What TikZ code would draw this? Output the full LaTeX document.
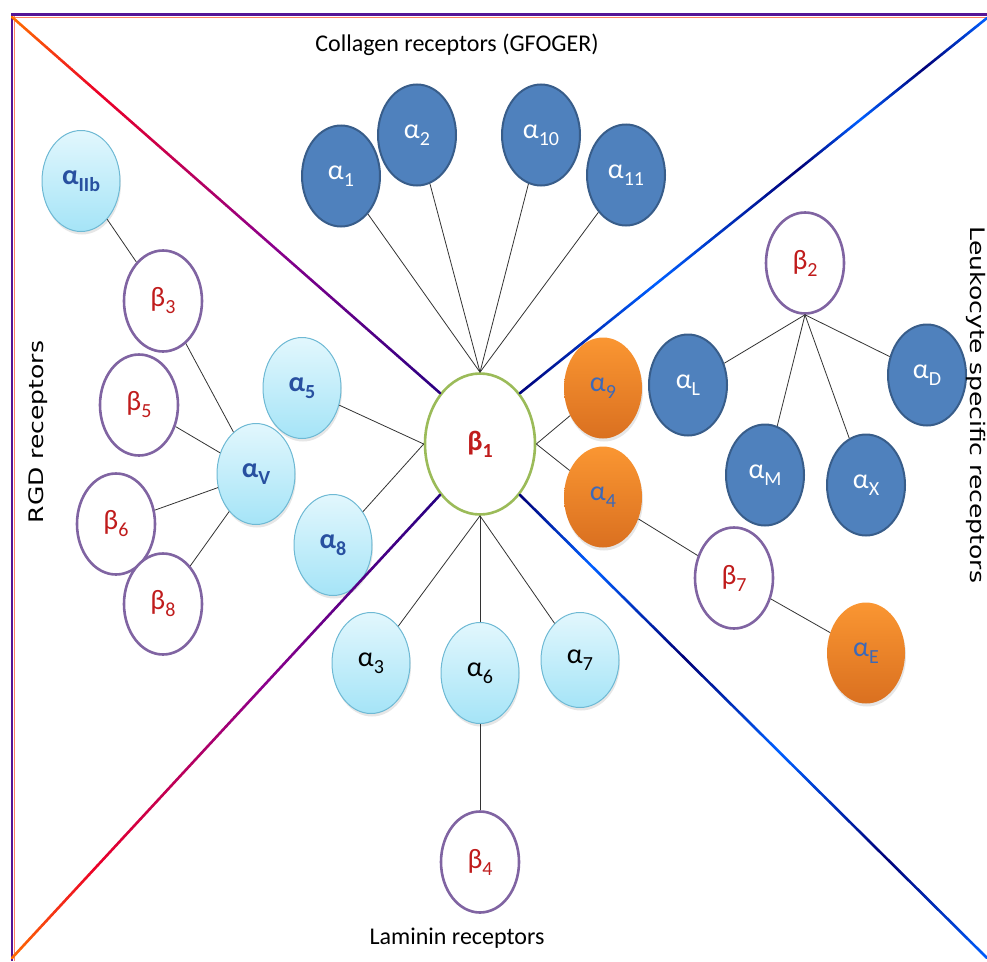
\documentclass[tikz,border=0pt]{standalone}
\usepackage{fontspec}
\setmainfont{Carlito}
\newfontfamily\dejavu{DejaVu Sans}
\usetikzlibrary{shapes.geometric,calc,shadows}

\definecolor{dkblue}{RGB}{79,129,189}
\definecolor{dkblueline}{RGB}{56,93,138}
\definecolor{ltblueT}{RGB}{226,247,253}
\definecolor{ltblueB}{RGB}{165,228,247}
\definecolor{ltblueline}{RGB}{110,185,212}
\definecolor{orT}{RGB}{250,150,50}
\definecolor{orB}{RGB}{218,112,32}
\definecolor{betaline}{RGB}{128,100,162}
\definecolor{greenline}{RGB}{155,187,89}
\definecolor{betatext}{RGB}{192,28,28}
\definecolor{boldblue}{RGB}{40,80,160}
\definecolor{ortext}{RGB}{60,105,185}
\definecolor{gOrange}{RGB}{255,110,0}
\definecolor{gRed}{RGB}{235,0,40}
\definecolor{gPurple}{RGB}{140,0,140}
\definecolor{gNavy}{RGB}{40,0,130}
\definecolor{gBlue}{RGB}{0,95,255}
\definecolor{gDark}{RGB}{0,0,120}
\definecolor{frameP}{RGB}{85,20,150}
\definecolor{frameO}{RGB}{255,130,100}

\newcommand\gseg[4]{%
  \foreach \i in {0,...,19}{%
    \pgfmathsetmacro\ta{\i/20}%
    \pgfmathsetmacro\tb{(\i+1)/20}%
    \pgfmathtruncatemacro\gp{100-5*\i}%
    \draw[diagline, draw=#3!\gp!#4] ($#1!\ta!#2$) -- ($#1!\tb!#2$);
  }}

\newcommand\sublbl[2]{#1\raisebox{-7pt}{\fontsize{20}{20}\selectfont #2}}
\newcommand\alp[1]{\sublbl{α}{#1}}
\newcommand\bet[1]{\sublbl{β}{#1}}

\tikzset{
  ell/.style={ellipse, minimum width=78pt, minimum height=101pt, inner sep=0pt,
    font=\fontsize{28}{28}\selectfont},
  dk/.style={ell, fill=dkblue, draw=dkblueline, line width=2pt, text=white},
  lt/.style={ell, top color=ltblueT, bottom color=ltblueB, draw=ltblueline, line width=1pt,
    drop shadow={opacity=0.2, shadow xshift=1pt, shadow yshift=-3pt}},
  ltb/.style={lt, text=boldblue, font=\fontsize{28}{28}\selectfont\bfseries},
  orn/.style={ell, top color=orT, bottom color=orB, draw=none, text=ortext,
    drop shadow={opacity=0.2, shadow xshift=1pt, shadow yshift=-3pt}},
  bt/.style={ell, fill=white, draw=betaline, line width=2.6pt, text=betatext},
  conn/.style={line width=0.8pt, draw=black!80},
  diagline/.style={line width=2.6pt, line cap=round},
  sidetext/.style={font=\dejavu\fontsize{20}{20}\selectfont, inner sep=0pt},
  titletext/.style={font=\fontsize{24}{24}\selectfont, inner sep=0pt}
}

\begin{document}
\begin{tikzpicture}[x=1pt, y=-1pt]
\useasboundingbox (0,0) rectangle (987,961);

% nodes
\node[ell, fill=white, draw=greenline, line width=2.6pt, minimum width=110pt, minimum height=141pt,
  text=betatext, font=\fontsize{28}{28}\selectfont\bfseries] (b1) at (480,444) {\bet{1}};

\node[dk] (a1) at (341,176) {\alp{1}};
\node[dk] (a2) at (417,135) {\alp{2}};
\node[dk] (a10) at (541,135) {\alp{10}};
\node[dk] (a11) at (626,175) {\alp{11}};

\node[ltb] (aIIb) at (81,181) {\alp{IIb}};
\node[bt] (b3) at (163,301) {\bet{3}};
\node[bt] (b5) at (139,405) {\bet{5}};
\node[ltb] (aV) at (256,474) {\alp{V}};
\node[bt] (b6) at (116,524) {\bet{6}};
\node[bt] (b8) at (163,604) {\bet{8}};
\node[ltb] (a5) at (302,388) {\alp{5}};
\node[ltb] (a8) at (333,545) {\alp{8}};

\node[lt] (a3) at (371,663) {\alp{3}};
\node[lt] (a6) at (480,673) {\alp{6}};
\node[lt, minimum height=95pt] (a7) at (580,660) {\alp{7}};
\node[bt] (b4) at (480,862) {\bet{4}};

\node[bt] (b2) at (805,263) {\bet{2}};
\node[dk] (aL) at (688,385) {\alp{L}};
\node[dk] (aM) at (765,475) {\alp{M}};
\node[dk] (aX) at (866,485) {\alp{X}};
\node[dk] (aD) at (927,375) {\alp{D}};

\node[orn] (a9) at (603,388) {\alp{9}};
\node[orn] (a4) at (603,497) {\alp{4}};
\node[bt] (b7) at (734,578) {\bet{7}};
\node[orn] (aE) at (866,653) {\alp{E}};

% connectors
\foreach \n in {a1,a2,a10,a11} \draw[conn] (b1.north) -- (\n);
\foreach \n in {a5,a8} \draw[conn] (b1.west) -- (\n);
\foreach \n in {a9,a4} \draw[conn] (b1.east) -- (\n);
\foreach \n in {a3,a6,a7} \draw[conn] (b1.south) -- (\n);
\draw[conn] (a6) -- (b4);
\draw[conn] (aIIb) -- (b3);
\foreach \n in {b3,b5,b6,b8} \draw[conn] (\n) -- (aV);
\draw[conn] (a4) -- (b7);
\draw[conn] (b7) -- (aE);
\foreach \n in {aL,aM,aX,aD} \draw[conn] (b2.south) -- (\n);

% frame
\coordinate (TL) at (12,17);
\coordinate (TR) at (987,18);
\coordinate (BL) at (12,958);
\coordinate (BR) at (987,958);
\draw[frameO, line width=1pt] (12,17) -- (987,17);
\draw[frameO, line width=0.8pt] (14,15) -- (14,961);
\draw[frameP, line width=3pt] (11,14.5) -- (987,14.5);
\draw[frameP, line width=2.6pt] (12,14) -- (12,961);

% diagonal lines with colour gradients
\coordinate (tlA) at ($(TL)!0.2!(b1.north west)$);
\coordinate (tlB) at ($(TL)!0.6!(b1.north west)$);
\gseg{(TL)}{(tlA)}{gOrange}{gRed}
\gseg{(tlA)}{(tlB)}{gRed}{gPurple}
\gseg{(tlB)}{(b1.north west)}{gPurple}{gNavy}

\coordinate (blA) at ($(b1.south west)!0.4!(BL)$);
\coordinate (blB) at ($(b1.south west)!0.8!(BL)$);
\gseg{(b1.south west)}{(blA)}{gNavy}{gPurple}
\gseg{(blA)}{(blB)}{gPurple}{gRed}
\gseg{(blB)}{(BL)}{gRed}{gOrange}

\coordinate (trA) at ($(TR)!0.13!(b1.north east)$);
\coordinate (trB) at ($(TR)!0.27!(b1.north east)$);
\coordinate (trC) at ($(TR)!0.4!(b1.north east)$);
\coordinate (trD) at ($(TR)!0.7!(b1.north east)$);
\gseg{(TR)}{(trA)}{gBlue}{gDark}
\gseg{(trA)}{(trB)}{gDark}{gBlue}
\gseg{(trB)}{(trC)}{gBlue}{gDark}
\gseg{(trC)}{(trD)}{gDark}{gBlue}
\gseg{(trD)}{(b1.north east)}{gBlue}{gDark}

\coordinate (brA) at ($(b1.south east)!0.15!(BR)$);
\coordinate (brB) at ($(b1.south east)!0.35!(BR)$);
\coordinate (brC) at ($(b1.south east)!0.55!(BR)$);
\coordinate (brD) at ($(b1.south east)!0.78!(BR)$);
\gseg{(b1.south east)}{(brA)}{gDark}{gBlue}
\gseg{(brA)}{(brB)}{gBlue}{gDark}
\gseg{(brB)}{(brC)}{gDark}{gBlue}
\gseg{(brC)}{(brD)}{gBlue}{gDark}
\gseg{(brD)}{(BR)}{gDark}{gBlue}

% texts
\node[titletext] (tcol) at (457,45) {Collagen receptors (GFOGER)};
\node[titletext] (tlam) at (457,938) {Laminin receptors};
\node[sidetext, rotate=90] (trgd) at (38,432) {\scalebox{1.25}[1]{RGD receptors}};
\node[sidetext, rotate=-90] (tleu) at (976,405) {\scalebox{1.25}[1]{Leukocyte specific receptors}};
\end{tikzpicture}
\end{document}
